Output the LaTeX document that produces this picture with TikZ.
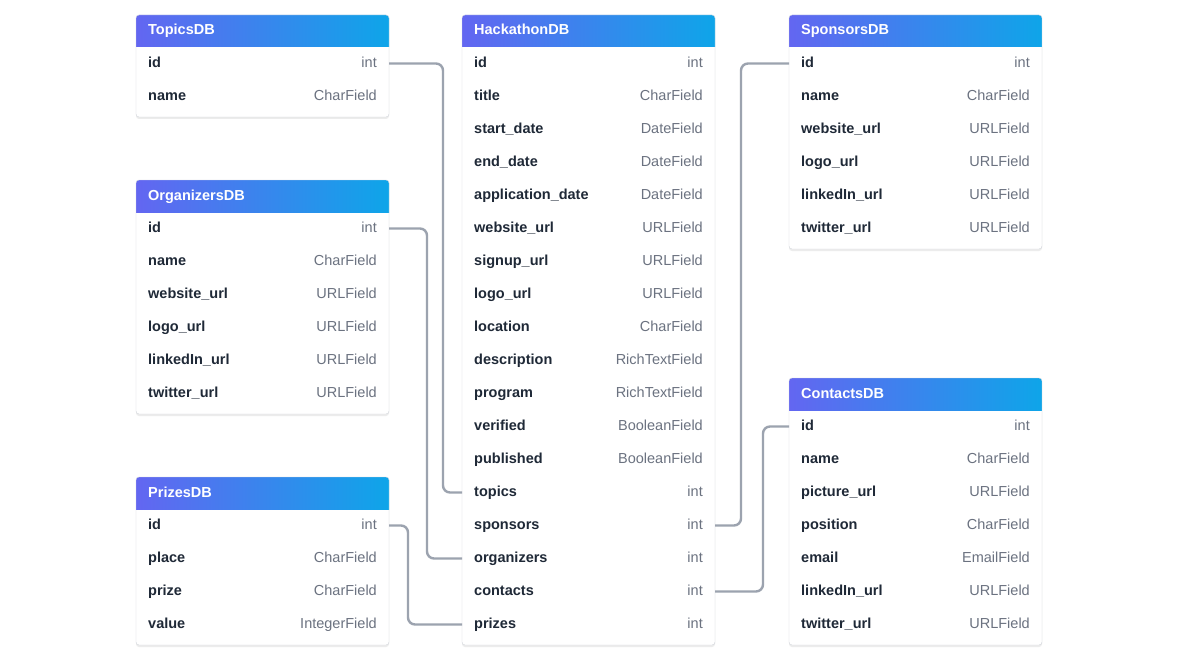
\documentclass[tikz,border=0pt]{standalone}
\usepackage{fontspec}
\setmainfont{Liberation Sans}
\usetikzlibrary{shadows}
\definecolor{hl}{HTML}{6366F1}
\definecolor{hr}{HTML}{0EA5E9}
\definecolor{nm}{HTML}{1F2937}
\definecolor{ty}{HTML}{6B7280}
\definecolor{bd}{HTML}{D1D5DB}
\definecolor{ln}{HTML}{9CA3AF}
\tikzset{
 base/.style={font=\fontsize{14.5}{17}\selectfont, inner sep=0pt, text height=10.5pt, text depth=3.5pt},
 rowname/.style={base, font=\fontsize{14.5}{17}\selectfont\bfseries, text=nm, anchor=west},
 rowtype/.style={base, text=ty, anchor=east},
 htext/.style={base, font=\fontsize{14.5}{17}\selectfont\bfseries, text=white, anchor=west},
 conn/.style={draw=ln, line width=2.4pt, rounded corners=7pt},
}
\newcommand\dbtable[6]{% id, title, x, ytop, nrows, rows
 \path[fill=white, rounded corners=3pt, drop shadow={opacity=0.15, shadow xshift=0pt, shadow yshift=-2pt}]
   (#3,#4) rectangle ({#3+253},{#4+36+33*#5});
 \begin{scope}
 \clip[rounded corners=3pt] (#3,#4) rectangle ({#3+253},{#4+36+33*#5});
 \shade[left color=hl, right color=hr] (#3,#4) rectangle ({#3+253},{#4+32});
 \end{scope}
 \draw[bd, rounded corners=3pt] (#3,#4) rectangle ({#3+253},{#4+36+33*#5});
 \node[htext] (#1) at ({#3+12},{#4+16.5}) {#2};
 \foreach \n/\t [count=\i] in {#6} {
   \node[rowname] (#1-\i) at ({#3+12},{#4+32+33*\i-16}) {\n};
   \node[rowtype] (#1-\i-t) at ({#3+241},{#4+32+33*\i-16}) {\t};
   \coordinate (#1-\i-l) at (#3,{#4+32+33*\i-16.5});
   \coordinate (#1-\i-r) at ({#3+253},{#4+32+33*\i-16.5});
 }
}
\begin{document}
\begin{tikzpicture}[x=1pt,y=-1pt]
\useasboundingbox[fill=white] (0,0) rectangle (1178,658);
\dbtable{tp}{TopicsDB}{136}{15}{2}{id/int,name/CharField}
\dbtable{or}{OrganizersDB}{136}{180}{6}{id/int,name/CharField,website\_url/URLField,logo\_url/URLField,linkedIn\_url/URLField,twitter\_url/URLField}
\dbtable{pr}{PrizesDB}{136}{477}{4}{id/int,place/CharField,prize/CharField,value/IntegerField}
\dbtable{hk}{HackathonDB}{462}{15}{18}{id/int,title/CharField,start\_date/DateField,end\_date/DateField,application\_date/DateField,website\_url/URLField,signup\_url/URLField,logo\_url/URLField,location/CharField,description/RichTextField,program/RichTextField,verified/BooleanField,published/BooleanField,topics/int,sponsors/int,organizers/int,contacts/int,prizes/int}
\dbtable{sp}{SponsorsDB}{789}{15}{6}{id/int,name/CharField,website\_url/URLField,logo\_url/URLField,linkedIn\_url/URLField,twitter\_url/URLField}
\dbtable{ct}{ContactsDB}{789}{378}{7}{id/int,name/CharField,picture\_url/URLField,position/CharField,email/EmailField,linkedIn\_url/URLField,twitter\_url/URLField}
\draw[conn] (tp-1-r) -| (443,300) |- (hk-14-l);
\draw[conn] (or-1-r) -| (427,400) |- (hk-16-l);
\draw[conn] (pr-1-r) -| (408,580) |- (hk-18-l);
\draw[conn] (hk-15-r) -| (741,300) |- (sp-1-l);
\draw[conn] (hk-17-r) -| (763,500) |- (ct-1-l);
\end{tikzpicture}
\end{document}
